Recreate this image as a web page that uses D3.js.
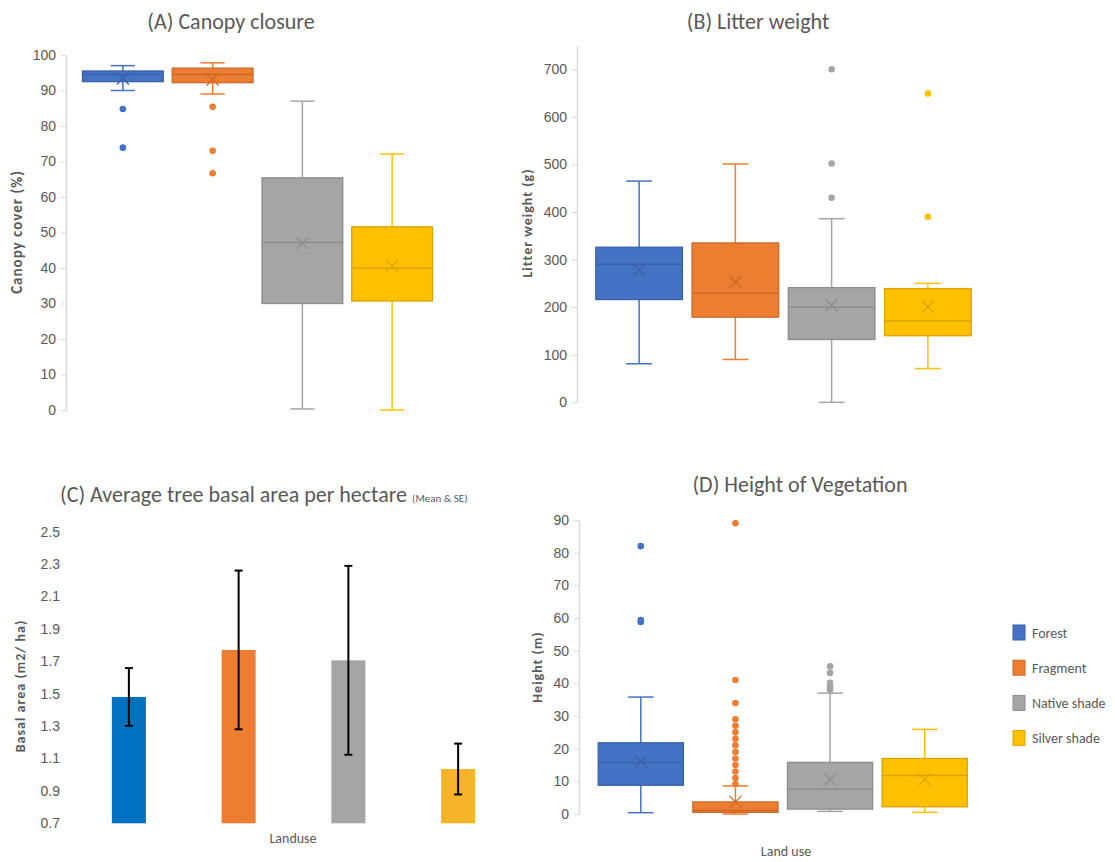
<!DOCTYPE html>
<html>
<head>
<meta charset="utf-8">
<script src="https://cdn.jsdelivr.net/npm/d3@7"></script>
<style>
  html, body { margin: 0; padding: 0; background: #fff; }
  svg { display: block; font-family: Carlito, Calibri, Lato, "Noto Sans", sans-serif; }
</style>
</head>
<body>
<svg id="chart" width="1115" height="862"></svg>
<script>
// Land-use categories shared by all four panels
const landUse = ["Forest", "Fragment", "Native shade", "Silver shade"];
const boxColors = ["#4472C4", "#ED7D31", "#A5A5A5", "#FFC000"];
const barColors = ["#0070C0", "#ED7D31", "#A5A5A5", "#F7B42A"];

// (A) Canopy cover (%) – five-number summaries, means and outliers
const canopyMin    = [90, 89, 0.3, 0];
const canopyQ1     = [92.5, 92.2, 30, 30.7];
const canopyMedian = [94.5, 94.5, 47.2, 39.9];
const canopyQ3     = [95.5, 96.3, 65.4, 51.6];
const canopyMax    = [97, 97.8, 87, 72.1];
const canopyMean   = [93.4, 93.1, 47, 40.6];
const canopyOutliers = [[84.8, 73.9], [85.4, 73, 66.7], [], []];
const canopyTicks  = [0, 10, 20, 30, 40, 50, 60, 70, 80, 90, 100];

// (B) Litter weight (g)
const litterMin    = [81, 90, 0, 71];
const litterQ1     = [216, 179, 132, 140];
const litterMedian = [290, 229, 200, 171];
const litterQ3     = [326, 335, 241, 239];
const litterMax    = [465, 501, 386, 250];
const litterMean   = [278, 253, 204, 201];
const litterOutliers = [[], [], [700, 502, 430], [649, 390]];
const litterTicks  = [0, 100, 200, 300, 400, 500, 600, 700];

// (C) Basal area (m2/ha) – mean and standard error
const basalMean = [1.48, 1.77, 1.706, 1.035];
const basalSE   = [0.178, 0.49, 0.583, 0.157];
const basalTicks = [0.7, 0.9, 1.1, 1.3, 1.5, 1.7, 1.9, 2.1, 2.3, 2.5];

// (D) Height of vegetation (m)
const heightMin    = [0.4, 0, 0.8, 0.5];
const heightQ1     = [8.8, 0.5, 1.5, 2.2];
const heightMedian = [15.8, 1.1, 7.6, 11.8];
const heightQ3     = [21.8, 3.7, 15.8, 17];
const heightMax    = [35.8, 8.6, 37, 25.9];
const heightMean   = [16, 3.7, 10.6, 10.6];
const heightOutliers = [
  [82, 59.4, 58.8],
  [89, 41, 34, 29, 27, 25, 23, 21, 19, 17, 15, 13, 11, 9.2],
  [45.2, 43.2, 40.2, 39, 38],
  []
];
const heightTicks = [0, 10, 20, 30, 40, 50, 60, 70, 80, 90];

const svg = d3.select("#chart");
const textGrey = "#595959";
const axisGrey = "#d9d9d9";

function styleAxis(g, showLine) {
  g.selectAll("text").attr("fill", textGrey).style("font-size", "14px");
  g.selectAll(".tick line").attr("stroke", axisGrey);
  g.select(".domain").attr("stroke", showLine ? axisGrey : "none").attr("stroke-width", 1.5);
}

function title(x, y, txt, size) {
  return svg.append("text").attr("x", x).attr("y", y).attr("text-anchor", "middle")
    .attr("fill", textGrey).style("font-size", size + "px").text(txt);
}

function yLabel(x, y, txt, weight, size) {
  svg.append("text")
    .attr("transform", `translate(${x},${y}) rotate(-90)`)
    .attr("text-anchor", "middle")
    .attr("fill", textGrey)
    .style("font-size", size + "px").style("font-weight", weight).style("letter-spacing", "1px")
    .text(txt);
}

// Box-and-whisker panel drawn from the summary arrays
function boxPanel(opt) {
  const x = d3.scaleBand().domain(landUse).range(opt.xRange).paddingInner(0.1).paddingOuter(0.05);
  const y = d3.scaleLinear().domain(opt.domain).range(opt.yRange);
  const ax = svg.append("g").attr("transform", `translate(${opt.axisX},0)`)
    .call(d3.axisLeft(y).tickValues(opt.ticks).tickSize(5).tickSizeOuter(0).tickPadding(5));
  styleAxis(ax, true);

  const g = svg.append("g");
  landUse.forEach((cat, i) => {
    const c = boxColors[i];
    const dark = d3.color(c).darker(0.45).formatHex();
    const bw = x.bandwidth();
    const x0 = x(cat), cx = x0 + bw / 2, cap = bw * 0.3;
    const grp = g.append("g");
    // whiskers
    grp.append("line").attr("x1", cx).attr("x2", cx).attr("y1", y(opt.max[i])).attr("y2", y(opt.q3[i]))
      .attr("stroke", c).attr("stroke-width", 1.5);
    grp.append("line").attr("x1", cx).attr("x2", cx).attr("y1", y(opt.q1[i])).attr("y2", y(opt.min[i]))
      .attr("stroke", c).attr("stroke-width", 1.5);
    [opt.max[i], opt.min[i]].forEach(v => {
      grp.append("line").attr("x1", cx - cap / 2).attr("x2", cx + cap / 2).attr("y1", y(v)).attr("y2", y(v))
        .attr("stroke", c).attr("stroke-width", 1.5);
    });
    // box
    grp.append("rect").attr("x", x0).attr("width", bw)
      .attr("y", y(opt.q3[i])).attr("height", y(opt.q1[i]) - y(opt.q3[i]))
      .attr("fill", c).attr("stroke", dark).attr("stroke-width", 1.3);
    // median
    grp.append("line").attr("x1", x0).attr("x2", x0 + bw).attr("y1", y(opt.median[i])).attr("y2", y(opt.median[i]))
      .attr("stroke", dark).attr("stroke-width", 1.5);
    // mean marker
    const my = y(opt.mean[i]), s = 6;
    grp.append("path").attr("d", `M${cx - s},${my - s}L${cx + s},${my + s}M${cx - s},${my + s}L${cx + s},${my - s}`)
      .attr("stroke", dark).attr("stroke-width", 1.3).attr("fill", "none");
    // outliers
    grp.selectAll("circle.out").data(opt.outliers[i]).join("circle").attr("class", "out")
      .attr("cx", cx).attr("cy", d => y(d)).attr("r", 3.3).attr("fill", c);
  });
}

// ---- (A) Canopy closure
title(231, 29, "(A) Canopy closure", 22);
boxPanel({
  xRange: [78, 437], axisX: 66, domain: [0, 100], yRange: [410, 55], ticks: canopyTicks,
  min: canopyMin, q1: canopyQ1, median: canopyMedian, q3: canopyQ3, max: canopyMax,
  mean: canopyMean, outliers: canopyOutliers
});
yLabel(22, 232, "Canopy cover (%)", 600, 15);

// ---- (B) Litter weight
title(758, 29, "(B) Litter weight", 22);
boxPanel({
  xRange: [591, 976], axisX: 577, domain: [0, 750], yRange: [402.3, 45.5], ticks: litterTicks,
  min: litterMin, q1: litterQ1, median: litterMedian, q3: litterQ3, max: litterMax,
  mean: litterMean, outliers: litterOutliers
});
yLabel(532, 223, "Litter weight (g)", "bold", 14);

// ---- (C) Average tree basal area (bar chart with SE)
const tC = svg.append("text").attr("x", 60).attr("y", 502).attr("fill", textGrey);
tC.append("tspan").style("font-size", "22px").text("(C) Average tree basal area per hectare ");
tC.append("tspan").style("font-size", "11px").text("(Mean & SE)");

const xC = d3.scaleBand().domain(landUse).range([74, 513]).paddingInner(0.69).paddingOuter(0.345);
const yC = d3.scaleLinear().domain([0.7, 2.5]).range([823.3, 531.7]);
const axC = svg.append("g").attr("transform", "translate(66,0)")
  .call(d3.axisLeft(yC).tickValues(basalTicks).tickSize(0).tickPadding(6).tickFormat(d3.format(".1f")));
styleAxis(axC, false);

svg.append("g").selectAll("rect").data(landUse).join("rect")
  .attr("x", d => xC(d)).attr("width", xC.bandwidth())
  .attr("y", (d, i) => yC(basalMean[i]))
  .attr("height", (d, i) => yC(0.7) - yC(basalMean[i]))
  .attr("fill", (d, i) => barColors[i]);

const err = svg.append("g").attr("stroke", "#000").attr("stroke-width", 2);
landUse.forEach((d, i) => {
  const cx = xC(d) + xC.bandwidth() / 2;
  const hi = yC(basalMean[i] + basalSE[i]), lo = yC(basalMean[i] - basalSE[i]);
  err.append("line").attr("x1", cx).attr("x2", cx).attr("y1", hi).attr("y2", lo);
  err.append("line").attr("x1", cx - 4).attr("x2", cx + 4).attr("y1", hi).attr("y2", hi);
  err.append("line").attr("x1", cx - 4).attr("x2", cx + 4).attr("y1", lo).attr("y2", lo);
});
svg.append("text").attr("x", 293).attr("y", 843).attr("text-anchor", "middle")
  .attr("fill", textGrey).style("font-size", "14px").text("Landuse");
yLabel(25, 686, "Basal area (m2/ ha)", "bold", 14);

// ---- (D) Height of vegetation
title(800, 492, "(D) Height of Vegetation", 22);
boxPanel({
  xRange: [593.5, 972], axisX: 579, domain: [0, 90], yRange: [814, 520], ticks: heightTicks,
  min: heightMin, q1: heightQ1, median: heightMedian, q3: heightQ3, max: heightMax,
  mean: heightMean, outliers: heightOutliers
});
yLabel(542, 667, "Height (m)", "bold", 14);
svg.append("text").attr("x", 786).attr("y", 856).attr("text-anchor", "middle")
  .attr("fill", textGrey).style("font-size", "14px").text("Land use");

// Legend
const leg = svg.append("g").attr("transform", "translate(1013,625)");
landUse.forEach((d, i) => {
  const row = leg.append("g").attr("transform", `translate(0,${i * 35.2})`);
  row.append("rect").attr("width", 12).attr("height", 15)
    .attr("fill", boxColors[i]).attr("stroke", d3.color(boxColors[i]).darker(0.45).formatHex()).attr("stroke-width", 1);
  row.append("text").attr("x", 19).attr("y", 12.5).attr("fill", textGrey).style("font-size", "14px").text(d);
});
</script>
</body>
</html>
